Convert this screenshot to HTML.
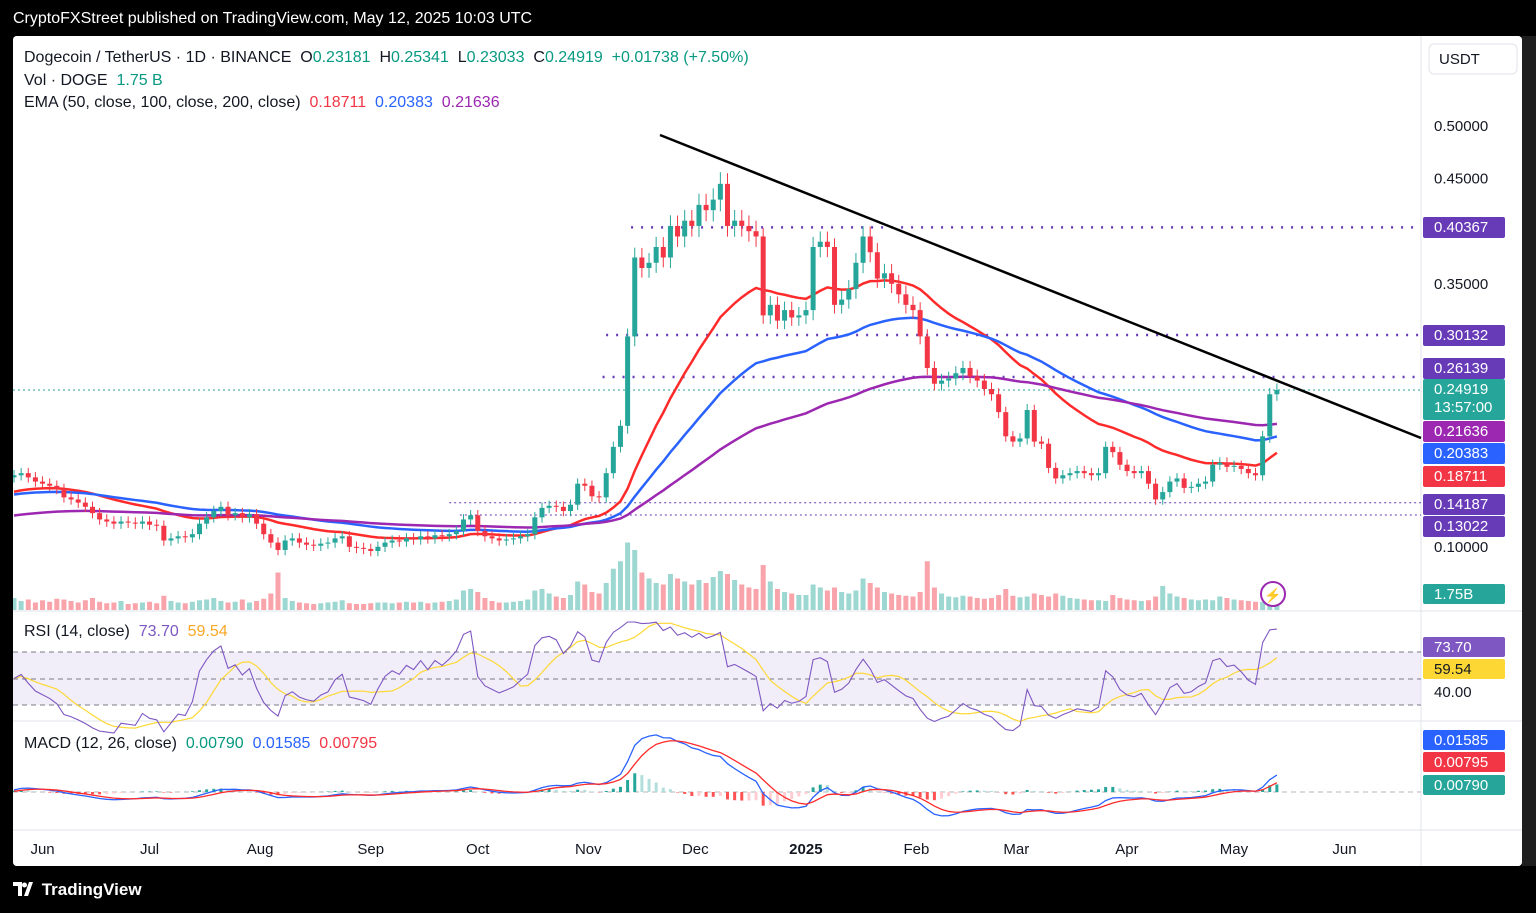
<!DOCTYPE html>
<html><head><meta charset="utf-8">
<style>
html,body{margin:0;padding:0;background:#000;width:1536px;height:913px;overflow:hidden;font-family:"Liberation Sans",sans-serif;}
#top{position:absolute;left:13px;top:10px;color:#fff;font-size:16px;}
#frame{position:absolute;left:13px;top:36px;width:1509px;height:830px;background:#fff;border-radius:4px;overflow:hidden;}
#rightdark{position:absolute;left:1522px;top:36px;width:14px;height:830px;background:#1e1e1e;}
#brand{position:absolute;left:13px;top:880px;color:#fff;font-size:17px;font-weight:bold;}
svg text{font-family:"Liberation Sans",sans-serif;}
</style></head><body>
<div id="top">CryptoFXStreet published on TradingView.com, May 12, 2025 10:03 UTC</div>
<div id="rightdark"></div>
<div id="frame">
<svg id="chart" width="1509" height="830" viewBox="13 36 1509 830" xmlns="http://www.w3.org/2000/svg"></svg>
</div>
<div id="brand"><svg width="24" height="14" viewBox="0 0 24 14" style="vertical-align:-1px"><path d="M0 0h9v14H5V4H0z M11 14l5-14h4l-5 14z" fill="#fff"/><circle cx="11.5" cy="3" r="2.5" fill="#fff"/></svg> TradingView</div>
<script>
const closes=[.168,.170,.166,.162,.160,.158,.155,.147,.145,.142,.138,.132,.126,.124,.122,.124,.123,.122,.124,.121,.120,.106,.108,.110,.109,.112,.122,.128,.134,.138,.130,.132,.128,.131,.122,.112,.104,.097,.106,.108,.104,.102,.101,.103,.104,.108,.110,.100,.099,.098,.096,.100,.104,.106,.105,.108,.107,.110,.108,.111,.110,.112,.115,.126,.130,.115,.110,.108,.106,.107,.108,.110,.112,.128,.137,.139,.138,.134,.140,.160,.158,.148,.147,.170,.195,.215,.300,.375,.365,.370,.385,.375,.405,.395,.410,.405,.425,.420,.430,.445,.405,.410,.405,.400,.395,.320,.330,.315,.325,.318,.320,.325,.385,.390,.385,.330,.335,.345,.370,.395,.380,.355,.360,.350,.340,.330,.325,.300,.270,.255,.258,.260,.265,.270,.262,.258,.250,.245,.228,.205,.200,.203,.230,.200,.198,.175,.165,.168,.170,.172,.170,.168,.170,.195,.190,.178,.172,.170,.172,.160,.145,.152,.162,.165,.156,.157,.160,.162,.178,.180,.176,.177,.174,.170,.168,.205,.245,.249];
const volumes=[1.6,1.2,1.4,1.0,1.3,1.1,1.5,1.4,1.2,1.0,1.3,1.6,1.1,0.9,1.0,1.2,0.8,0.9,1.0,1.1,0.9,1.9,1.2,1.0,0.9,1.1,1.3,1.4,1.6,1.2,1.0,1.1,1.4,1.0,1.2,1.5,2.2,5.0,1.6,1.2,1.0,0.9,0.8,0.9,1.0,1.1,1.3,0.9,0.8,0.8,0.9,1.0,1.0,0.9,1.0,1.1,1.0,1.1,0.9,1.0,1.1,1.2,1.4,2.6,2.8,2.4,1.6,1.2,1.0,1.0,1.1,1.2,1.4,2.6,2.8,2.2,1.8,1.6,2.0,3.8,3.4,2.4,2.2,3.6,5.5,6.5,9.0,8.0,5.0,4.2,3.6,3.4,4.8,4.2,3.8,3.4,4.0,3.6,4.4,5.2,4.8,4.0,3.4,3.0,2.8,6.0,3.8,2.8,2.4,2.2,2.0,2.0,3.4,3.0,2.6,3.0,2.4,2.2,2.6,4.2,3.6,3.0,2.4,2.2,2.0,1.9,1.8,2.4,6.5,3.0,2.2,1.8,1.7,1.9,1.8,1.6,1.5,1.6,2.0,2.8,1.9,1.7,1.8,2.2,2.0,1.8,2.2,1.9,1.6,1.5,1.4,1.3,1.3,1.2,2.0,1.6,1.4,1.3,1.2,1.3,1.8,3.2,2.2,1.8,1.6,1.4,1.3,1.4,1.3,1.8,1.6,1.4,1.3,1.2,1.1,1.1,1.6,2.2,1.75];
const priceTicks=["0.50000","0.45000","0.35000","0.10000"];
const priceTickValues=[0.5,0.45,0.35,0.10];
const monthLabels=["Jun","Jul","Aug","Sep","Oct","Nov","Dec","2025","Feb","Mar","Apr","May","Jun"];
const monthDays=[8,38,69,100,130,161,191,222,253,281,312,342,373];
const levelValues=[0.40367,0.30132,0.26139,0.14187,0.13022];
const levelStartDays=[173,166,165,122,125];
const emaSeeds=[0.151,0.149,0.129];

const svg=document.getElementById('chart');
const NS='http://www.w3.org/2000/svg';
function mk(tag,attrs,parent){const e=document.createElementNS(NS,tag);for(const k in attrs)e.setAttribute(k,attrs[k]);(parent||svg).appendChild(e);return e;}
const X0=14, DX=7.135;
const xOf=i=>X0+i*DX;
const xDay=d=>14+d*3.567;
const yP=p=>126+(0.5-p)*1052;
const yRSI=v=>652+(70-v)*1.325;
const yMACD=v=>792-v*890;
const VS=7.5;
const yVol=v=>610-v*VS;

let e;
e=mk('rect',{x:13,y:36,width:1509,height:830,fill:'#fff'});

e=mk('rect',{x:13,y:652,width:1408,height:53,fill:'#7e57c2','fill-opacity':0.1});

[611,721,830].forEach(y=>{e=mk('line',{x1:13,x2:1522,y1:y,y2:y,stroke:'#e0e3eb','stroke-width':1});
});
e=mk('line',{x1:1421,x2:1421,y1:36,y2:866,stroke:'#e0e3eb'});

[652,679,705].forEach(y=>{e=mk('line',{x1:13,x2:1421,y1:y,y2:y,stroke:'#787b86','stroke-dasharray':'5,4','stroke-width':1});
});
e=mk('line',{x1:13,x2:1421,y1:792,y2:792,stroke:'#b2b5be','stroke-dasharray':'5,4'});


closes.forEach((c,i)=>{const o=i?closes[i-1]:0.166;const v=volumes[i];
e=mk('rect',{x:xOf(i)-2.5,y:yVol(v),width:5,height:v*VS,fill:c>=o?'#26a69a':'#f23645','fill-opacity':0.45});
});

levelValues.forEach((p,k)=>{const thin=p<0.2;
e=mk('line',{x1:xDay(levelStartDays[k]),x2:1421,y1:yP(p),y2:yP(p),stroke:'#673ab7','stroke-width':thin?1:2.5,'stroke-dasharray':thin?'2,3':'2,8'});
});
e=mk('line',{x1:13,x2:1421,y1:yP(closes[closes.length-1]),y2:yP(closes[closes.length-1]),stroke:'#26a69a','stroke-dasharray':'2,3'});


function ema(arr,n,seed){const k=2/(n+1);let v=seed;return arr.map(c=>(v=c*k+v*(1-k)));}
const emas=[ema(closes,25,emaSeeds[0]),ema(closes,50,emaSeeds[1]),ema(closes,100,emaSeeds[2])];
const emaColors=['#ff2b2b','#2962ff','#9c27b0'];const emaNames=['ema-50-line','ema-100-line','ema-200-line'];
emas.forEach((s,k)=>{e=mk('polyline',{points:s.map((v,i)=>xOf(i)+','+yP(v)).join(' '),fill:'none',stroke:emaColors[k],'stroke-width':2.5});
});

closes.forEach((c,i)=>{const o=i?closes[i-1]:0.166;const up=c>=o;const col=up?'#26a69a':'#f23645';
const w=Math.max(0.005,0.025*c);
const hi=Math.max(o,c)+w, lo=Math.min(o,c)-w;
e=mk('line',{x1:xOf(i),x2:xOf(i),y1:yP(hi),y2:yP(lo),stroke:col,'stroke-width':1});

e=mk('rect',{x:xOf(i)-2.5,y:yP(Math.max(o,c)),width:5,height:Math.max(1,Math.abs(yP(o)-yP(c))),fill:col});
});

e=mk('line',{x1:660,y1:135,x2:1421,y2:438,stroke:'#000','stroke-width':2.5});


function rsi(arr,n){const out=[];let ag=0,al=0;for(let i=0;i<arr.length;i++){const d=i?arr[i]-arr[i-1]:0;const g=Math.max(d,0),l=Math.max(-d,0);
if(i===0){ag=0.003;al=0.003;}ag=(ag*(n-1)+g)/n;al=(al*(n-1)+l)/n;out.push(100-100/(1+ag/(al||1e-9)));}return out;}
const rsiVals=rsi(closes,7);
const rsiMA=rsiVals.map((v,i)=>{const s=rsiVals.slice(Math.max(0,i-6),i+1);return s.reduce((a,b)=>a+b,0)/s.length;});
e=mk('polyline',{points:rsiMA.map((v,i)=>xOf(i)+','+yRSI(v)).join(' '),fill:'none',stroke:'#fdd835','stroke-width':1.2});

e=mk('polyline',{points:rsiVals.map((v,i)=>xOf(i)+','+Math.max(622,yRSI(v))).join(' '),fill:'none',stroke:'#7e57c2','stroke-width':1.1});


const e1=ema(closes,6,emaSeeds[0]),e2=ema(closes,13,emaSeeds[0]);
const macd=e1.map((v,i)=>v-e2[i]);const sig=ema(macd,5,0);
macd.forEach((m,i)=>{const h=m-sig[i];const prev=i?macd[i-1]-sig[i-1]:0;
const col=h>=0?(h>=prev?'#26a69a':'#b2dfdb'):(h<prev?'#ff5252':'#ffcdd2');
const y=Math.max(726,Math.min(828,yMACD(h)));
e=mk('rect',{x:xOf(i)-1.5,y:Math.min(y,792),width:3,height:Math.abs(y-792)||0.5,fill:col});
});
e=mk('polyline',{points:macd.map((v,i)=>xOf(i)+','+Math.max(726,Math.min(828,yMACD(v)))).join(' '),fill:'none',stroke:'#2962ff','stroke-width':1.3});

e=mk('polyline',{points:sig.map((v,i)=>xOf(i)+','+Math.max(726,Math.min(828,yMACD(v)))).join(' '),fill:'none',stroke:'#ff2b2b','stroke-width':1.3});


priceTicks.forEach((t,k)=>{e=mk('text',{x:1434,y:yP(priceTickValues[k])+5,'font-size':15,fill:'#131722'});e.textContent=t;
});
monthLabels.forEach((t,k)=>{e=mk('text',{x:xDay(monthDays[k]),y:854,'font-size':15,fill:'#131722','text-anchor':'middle','font-weight':t==='2025'?'bold':'normal'});e.textContent=t;
});
e=mk('text',{x:1434,y:697,'font-size':15,fill:'#131722'});e.textContent='40.00';


function box(y,h,bg,fg,txt,name){const g=mk('g',{});

mk('rect',{x:1423,y:y,width:82,height:h,rx:2,fill:bg},g);
txt.forEach((t,k)=>{const tt=mk('text',{x:1434,y:y+15+k*18,'font-size':15,fill:fg},g);tt.textContent=t;});}
box(217,21,'#673ab7','#fff',['0.40367'],'level-label-040367');
box(325,21,'#673ab7','#fff',['0.30132'],'level-label-030132');
box(358,21,'#673ab7','#fff',['0.26139'],'level-label-026139');
box(379,41,'#26a69a','#fff',['0.24919','13:57:00'],'last-price-label');
box(421,21,'#9c27b0','#fff',['0.21636'],'ema200-label');
box(443,21,'#2962ff','#fff',['0.20383'],'ema100-label');
box(466,21,'#f23645','#fff',['0.18711'],'ema50-label');
box(494,21,'#673ab7','#fff',['0.14187'],'level-label-014187');
box(516,21,'#673ab7','#fff',['0.13022'],'level-label-013022');
box(584,20,'#26a69a','#fff',['1.75B'],'volume-label');
box(637,20,'#7e57c2','#fff',['73.70'],'rsi-value-label');
box(659,20,'#fdd835','#131722',['59.54'],'rsi-ma-label');
box(730,20,'#2962ff','#fff',['0.01585'],'macd-value-label');
box(752,20,'#f23645','#fff',['0.00795'],'signal-value-label');
box(775,20,'#26a69a','#fff',['0.00790'],'histogram-value-label');
e=mk('rect',{x:1429,y:44,width:88,height:30,rx:5,fill:'#fff',stroke:'#e0e3eb'});

e=mk('text',{x:1439,y:64,'font-size':15,fill:'#131722'});e.textContent='USDT';

e=mk('circle',{cx:1273,cy:594,r:12,fill:'#fff',stroke:'#9c27b0','stroke-width':2});

e=mk('text',{x:1273,y:600,'font-size':14,fill:'#9c27b0','text-anchor':'middle'});e.textContent='⚡';

</script>
<div style="position:absolute;left:24px;top:47px;font-size:16px;color:#131722;line-height:22.5px;white-space:nowrap">
<div>Dogecoin / TetherUS · 1D · BINANCE &nbsp;O<span style="color:#089981">0.23181</span> &nbsp;H<span style="color:#089981">0.25341</span> &nbsp;L<span style="color:#089981">0.23033</span> &nbsp;C<span style="color:#089981">0.24919 &nbsp;+0.01738 (+7.50%)</span></div>
<div>Vol · DOGE &nbsp;<span style="color:#089981">1.75 B</span></div>
<div>EMA (50, close, 100, close, 200, close) &nbsp;<span style="color:#f23645">0.18711</span> &nbsp;<span style="color:#2962ff">0.20383</span> &nbsp;<span style="color:#9c27b0">0.21636</span></div>
</div>
<div style="position:absolute;left:24px;top:623px;font-size:16px;color:#131722;white-space:nowrap">RSI (14, close) &nbsp;<span style="color:#7e57c2">73.70</span> &nbsp;<span style="color:#f9a825">59.54</span></div>
<div style="position:absolute;left:24px;top:735px;font-size:16px;color:#131722;white-space:nowrap">MACD (12, 26, close) &nbsp;<span style="color:#089981">0.00790</span> &nbsp;<span style="color:#2962ff">0.01585</span> &nbsp;<span style="color:#f23645">0.00795</span></div>
</body></html>
